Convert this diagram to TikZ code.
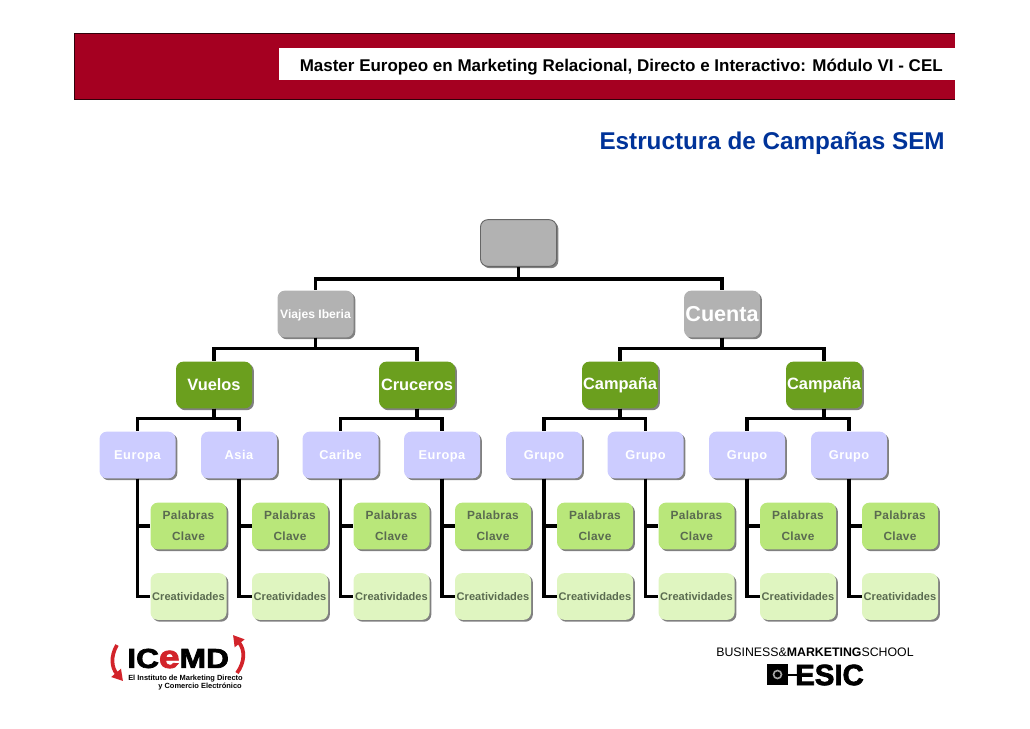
\documentclass[tikz,border=0pt]{standalone}
\usepackage{fontspec}
\usepackage{graphicx}
\setmainfont{Liberation Sans}
\newfontfamily\spaced[LetterSpace=4]{Liberation Sans}
\newfontfamily\spacedk[LetterSpace=2.5]{Liberation Sans}
\newfontfamily\heavy[FakeBold=2.5]{Liberation Sans}
\usetikzlibrary{shadows,arrows.meta}
\definecolor{hdr}{HTML}{A50021}
\definecolor{greyb}{HTML}{B2B2B2}
\definecolor{greens}{HTML}{6B9F1E}
\definecolor{lilac}{HTML}{CCCCFF}
\definecolor{palab}{HTML}{B9E77A}
\definecolor{creat}{HTML}{DFF5C0}
\definecolor{darkt}{HTML}{5A6B50}
\definecolor{bluet}{HTML}{003399}
\definecolor{logored}{HTML}{D2232A}
\newcommand{\fs}[1]{\fontsize{#1}{#1}\selectfont}
\tikzset{
  box/.style={rectangle,rounded corners=5.5pt,minimum width=57pt,minimum height=35pt,inner sep=0pt,align=center,font=\bfseries,
    general shadow={fill=black!50,shadow xshift=1.4pt,shadow yshift=-1.4pt}},
  greybox/.style={box,fill=greyb,text=white},
  rootbox/.style={greybox,draw=black!60,line width=0.7pt},
  campbox/.style={box,fill=greens,text=white,font=\bfseries\fs{12.3}},
  groupbox/.style={box,fill=lilac,text=white,text depth=0pt,font=\bfseries\spaced\fs{9.6}},
  kwbox/.style={box,fill=palab,text=darkt,font=\bfseries\spacedk\fs{8.9}},
  adbox/.style={box,fill=creat,text=darkt,font=\bfseries\fs{8.3}},
  conn/.style={line width=2.6pt,black,line cap=butt,line join=miter},
  logoarc/.style={line width=2.8pt,logored,-{Triangle[width=9pt,length=8pt]}},
}
\begin{document}
\begin{tikzpicture}[x=0.75pt,y=-0.75pt]
\useasboundingbox (0,0) rectangle (1030,728);
% header
\fill[hdr] (74,33) rectangle (955,99);
\draw[black!70!hdr,line width=0.7pt] (74,33) -- (955,33) (74,99) -- (955,99) (74,33) -- (74,99);
\fill[white] (279,48) rectangle (955,80);
\node[anchor=east,inner sep=0pt,font=\bfseries\fs{12.75}] (head) at (943,67.5) {Master Europeo en Marketing Relacional, Directo e Interactivo: Módulo VI - CEL};
\node[anchor=east,inner sep=0pt,text=bluet,font=\bfseries\fs{18.2}] (title) at (945,143.5) {Estructura de Campañas SEM};
% level 0/1
\node[rootbox] (root) at (518.5,243) {};
\node[greybox,text depth=0pt,font=\bfseries\fs{9.1}] (iberia) at (315.5,314) {Viajes Iberia};
\node[greybox,font=\bfseries\fs{16.2}] (cuenta) at (722,314) {Cuenta};
% level 2
\node[campbox] (c1) at (214,385) {Vuelos};
\node[campbox] (c2) at (417,385) {Cruceros};
\node[campbox] (c3) at (620,385) {Campaña};
\node[campbox] (c4) at (824,385) {Campaña};
% level 3, 4
\foreach \n/\x/\t in {1/137.5/Europa,2/239/Asia,3/340.5/Caribe,4/442/Europa,5/544/Grupo,6/645.5/Grupo,7/747/Grupo,8/849/Grupo}{
  \node[groupbox] (g\n) at (\x,455) {\t};
  \node[kwbox] (k\n) at ({\x+51},526) {Palabras\\[6.5pt]Clave};
  \node[adbox] (a\n) at ({\x+51},596.5) {Creatividades};
  \draw[conn] (g\n.south) |- (k\n.west);
  \draw[conn] (g\n.south) |- (a\n.west);
}
% connectors
\draw[conn] (root.south) -- ++(0,12) -| (iberia.north);
\draw[conn] (root.south) -- ++(0,12) -| (cuenta.north);
\draw[conn] (iberia.south) -- ++(0,11) -| (c1.north);
\draw[conn] (iberia.south) -- ++(0,11) -| (c2.north);
\draw[conn] (cuenta.south) -- ++(0,11) -| (c3.north);
\draw[conn] (cuenta.south) -- ++(0,11) -| (c4.north);
\foreach \p/\a/\b in {c1/g1/g2,c2/g3/g4,c3/g5/g6,c4/g7/g8}{
  \draw[conn] (\p.south) -- ++(0,10) -| (\a.north);
  \draw[conn] (\p.south) -- ++(0,10) -| (\b.north);
}
% ICEMD logo
\node[anchor=west,inner sep=0pt] (icemd) at (127,658.5) {\scalebox{1.16}[1]{\heavy\bfseries\fs{20.5}IC\textcolor{logored}{\fs{24}e}MD}};
\node[anchor=west,inner sep=0pt,font=\bfseries\fs{5.6}] (ic1) at (128,679) {El Instituto de Marketing Directo};
\node[anchor=east,inner sep=0pt,font=\bfseries\fs{5.6}] (ic2) at (242,687) {y Comercio Electrónico};
\draw[logoarc] (117,645) .. controls (110,657) and (112,668) .. (123,681);
\draw[logoarc] (237,673) .. controls (245,662) and (245,650) .. (233,635);
% ESIC logo
\node[anchor=west,inner sep=0pt,font=\fs{9.25}] (bms) at (716,652) {BUSINESS\&\textbf{MARKETING}SCHOOL};
\fill[black] (767,664) rectangle (788,685);
\draw[black!35,line width=1.2pt] (777.5,674.5) circle (4);
\draw[black,line width=2.2pt] (788,675) -- (797,675);
\node[anchor=west,inner sep=0pt] (esic) at (795,675) {\heavy\bfseries\fs{22}ESIC};
\end{tikzpicture}
\end{document}
